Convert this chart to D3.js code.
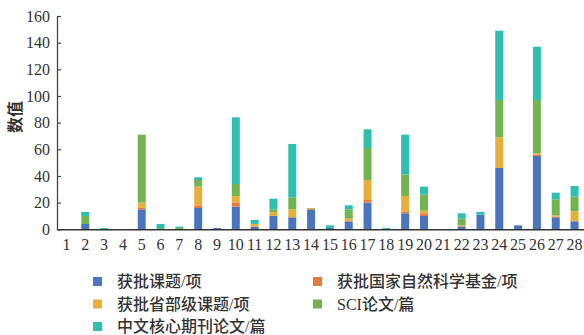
<!DOCTYPE html>
<html><head><meta charset="utf-8">
<script src="https://cdn.jsdelivr.net/npm/d3@7"></script>
<style>
html,body{margin:0;padding:0;background:#fff;}
svg{display:block;}
</style></head>
<body>
<svg id="chart" width="584" height="335"></svg>
<script>
const categories = ["1","2","3","4","5","6","7","8","9","10","11","12","13","14","15","16","17","18","19","20","21","22","23","24","25","26","27","28"];
const seriesNames = ["获批课题/项","获批国家自然科学基金/项","获批省部级课题/项","SCI论文/篇","中文核心期刊论文/篇"];
const projects   = [0,4,0,0,15,0,0,16,1,17,2,10,9,15,1,6,20,0,12,10,0,2,11,46,3,55,9,6];
const nsfc       = [0,0,0,0,1,0,0,2,0,3,0,0,0,0,0,0,2,0,1,2,0,0.5,0,0,0,1,0.5,0.5];
const provincial = [0,0,0,0,4,0,0,14,0,5,2,3,6,1,0,2,15,0,12,2,0,0.5,0,23,0,1,1,7];
const sci        = [0,6,0,0,51,1,1,5,0,9,0,2,9,0,0,7,24,0,16,12,0,5,0,28,0,40,12,11];
const core       = [0,3,1,0,0,3,1,2,0,50,3,8,40,0,2,3,14,1,30,6,0,4,2,52,0,40,5,8];
const yTicks = [0,20,40,60,80,100,120,140,160];
const colors = ["#4A74BE","#E8793F","#E8AE3A","#72B450","#2FBFB0"];
const yLabel = "数值";

const seriesData = [projects, nsfc, provincial, sci, core];
const keys = seriesNames;
const table = categories.map((c,i)=>{
  const row = {cat:c};
  keys.forEach((k,j)=>row[k]=seriesData[j][i]);
  return row;
});

const svg = d3.select("#chart");
const x0 = 57, x1 = 584, yBottom = 229.3, yTop = 16;
const x = d3.scaleBand().domain(categories).range([x0,x1]).paddingInner(0.575).paddingOuter(0.29);
const y = d3.scaleLinear().domain([0,160]).range([yBottom,yTop]);
const color = d3.scaleOrdinal().domain(keys).range(colors);

const stacked = d3.stack().keys(keys)(table);

svg.append("g").selectAll("g").data(stacked).join("g")
  .attr("fill", d=>color(d.key))
  .selectAll("rect").data(d=>d).join("rect")
  .attr("x", d=>x(d.data.cat))
  .attr("width", x.bandwidth())
  .attr("y", d=>y(d[1]))
  .attr("height", d=>Math.max(0, y(d[0])-y(d[1])));

const fontNum = "'Liberation Serif','Noto Sans CJK SC',serif";

// y axis
const yAxis = d3.axisLeft(y).tickValues(yTicks).tickSizeInner(-4).tickSizeOuter(0).tickPadding(7);
const gy = svg.append("g").attr("transform",`translate(${x0},0)`).call(yAxis);
gy.select(".domain").attr("stroke","#444").attr("stroke-width",1.3);
gy.selectAll(".tick line").attr("stroke","#444").attr("stroke-width",1.2);
gy.selectAll(".tick text").attr("font-family",fontNum).attr("font-size",16).attr("fill","#333");

// x axis
const xAxis = d3.axisBottom(x).tickSize(0).tickPadding(9);
const gx = svg.append("g").attr("transform",`translate(0,${yBottom})`).call(xAxis);
gx.select(".domain").attr("stroke","#333").attr("stroke-width",1.5);
gx.selectAll(".tick text").attr("font-family",fontNum).attr("font-size",16).attr("fill","#333");

// y label
svg.append("text").attr("transform","translate(21,117) rotate(-90)")
  .attr("text-anchor","middle").attr("font-family","'Noto Sans CJK SC',sans-serif")
  .attr("font-size",16).attr("font-weight","bold").attr("fill","#333").text(yLabel);

// legend
const legendPos = [[93,277],[313,277],[93,299.5],[313,299.5],[93,322]];
const lg = svg.append("g").selectAll("g").data(keys).join("g")
  .attr("transform",(d,i)=>`translate(${legendPos[i][0]},${legendPos[i][1]})`);
lg.append("rect").attr("width",9).attr("height",9).attr("fill",d=>color(d));
lg.append("text").attr("x",24).attr("y",4.5).attr("dy","0.35em")
  .attr("font-family",fontNum).attr("font-size",16).attr("font-weight",500)
  .attr("fill","#333").text(d=>d);
</script>
</body></html>
